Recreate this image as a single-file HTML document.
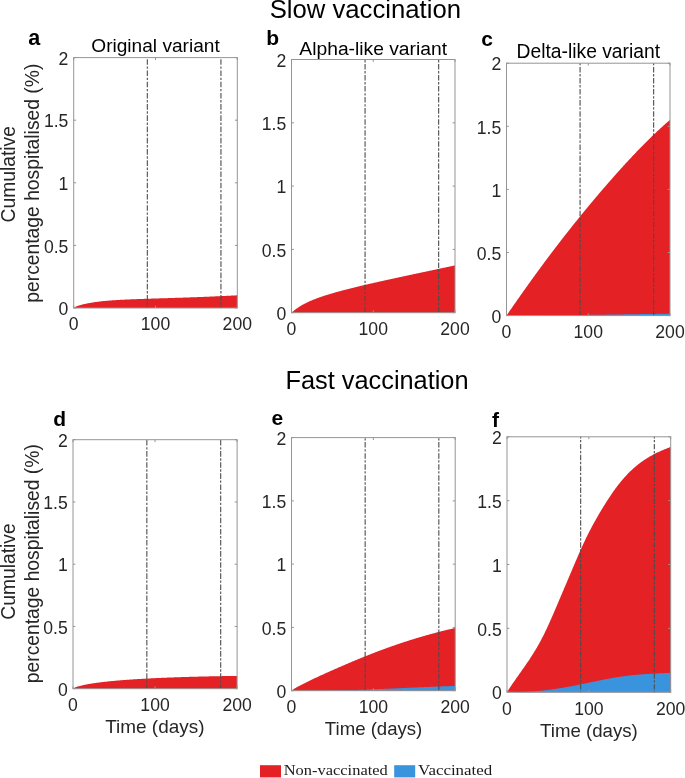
<!DOCTYPE html>
<html><head><meta charset="utf-8"><style>
html,body{margin:0;padding:0;background:#fff;width:685px;height:778px;overflow:hidden;}
svg{display:block;font-family:"Liberation Sans",sans-serif;will-change:transform;}
</style></head><body>
<svg width="685" height="778" viewBox="0 0 685 778" font-family="Liberation Sans, sans-serif">
<path d="M73.70,308.00 L73.70,308.00 L74.20,307.45 L74.70,307.16 L75.20,306.91 L75.70,306.68 L76.19,306.48 L76.69,306.28 L77.19,306.10 L77.69,305.93 L78.19,305.76 L78.69,305.60 L79.19,305.44 L79.69,305.29 L80.18,305.15 L80.68,305.01 L81.18,304.87 L81.68,304.74 L82.18,304.61 L82.68,304.48 L83.18,304.36 L83.68,304.24 L84.17,304.12 L84.67,304.00 L85.17,303.89 L85.67,303.78 L86.17,303.68 L86.67,303.57 L87.17,303.47 L87.67,303.37 L88.16,303.27 L88.66,303.18 L89.16,303.08 L89.66,302.99 L90.16,302.90 L90.66,302.81 L91.16,302.73 L91.66,302.64 L92.15,302.56 L92.65,302.48 L93.15,302.40 L93.65,302.32 L94.15,302.24 L94.65,302.17 L95.15,302.10 L95.65,302.03 L96.15,301.96 L96.64,301.89 L97.14,301.82 L97.64,301.76 L98.14,301.69 L98.64,301.63 L99.14,301.57 L99.64,301.51 L100.14,301.45 L100.63,301.39 L101.13,301.34 L101.63,301.28 L102.13,301.23 L102.63,301.17 L103.13,301.12 L103.63,301.07 L104.13,301.02 L104.62,300.98 L105.12,300.93 L105.62,300.88 L106.12,300.84 L106.62,300.80 L107.12,300.75 L107.62,300.71 L108.12,300.67 L108.61,300.63 L109.11,300.59 L109.61,300.55 L110.11,300.51 L110.61,300.47 L111.11,300.44 L111.61,300.40 L112.11,300.36 L112.60,300.33 L113.10,300.29 L113.60,300.26 L114.10,300.23 L114.60,300.19 L115.10,300.16 L115.60,300.13 L116.10,300.10 L116.60,300.07 L117.09,300.04 L117.59,300.01 L118.09,299.98 L118.59,299.95 L119.09,299.92 L119.59,299.90 L120.09,299.87 L120.59,299.84 L121.08,299.81 L121.58,299.79 L122.08,299.76 L122.58,299.74 L123.08,299.71 L123.58,299.69 L124.08,299.66 L124.58,299.64 L125.07,299.61 L125.57,299.59 L126.07,299.57 L126.57,299.54 L127.07,299.52 L127.57,299.50 L128.07,299.48 L128.57,299.46 L129.06,299.43 L129.56,299.41 L130.06,299.39 L130.56,299.37 L131.06,299.35 L131.56,299.33 L132.06,299.31 L132.56,299.29 L133.05,299.27 L133.55,299.25 L134.05,299.23 L134.55,299.21 L135.05,299.19 L135.55,299.17 L136.05,299.15 L136.55,299.13 L137.05,299.11 L137.54,299.10 L138.04,299.08 L138.54,299.06 L139.04,299.04 L139.54,299.02 L140.04,299.01 L140.54,298.99 L141.04,298.97 L141.53,298.95 L142.03,298.94 L142.53,298.92 L143.03,298.90 L143.53,298.89 L144.03,298.87 L144.53,298.85 L145.03,298.83 L145.52,298.82 L146.02,298.80 L146.52,298.79 L147.02,298.77 L147.52,298.75 L148.02,298.74 L148.52,298.72 L149.02,298.70 L149.51,298.69 L150.01,298.67 L150.51,298.66 L151.01,298.64 L151.51,298.62 L152.01,298.61 L152.51,298.59 L153.01,298.58 L153.50,298.56 L154.00,298.54 L154.50,298.53 L155.00,298.51 L155.50,298.50 L156.00,298.48 L156.50,298.47 L157.00,298.45 L157.50,298.44 L157.99,298.42 L158.49,298.40 L158.99,298.39 L159.49,298.37 L159.99,298.36 L160.49,298.34 L160.99,298.33 L161.49,298.31 L161.98,298.30 L162.48,298.28 L162.98,298.27 L163.48,298.25 L163.98,298.23 L164.48,298.22 L164.98,298.20 L165.48,298.19 L165.97,298.17 L166.47,298.16 L166.97,298.14 L167.47,298.13 L167.97,298.11 L168.47,298.09 L168.97,298.08 L169.47,298.06 L169.96,298.05 L170.46,298.03 L170.96,298.02 L171.46,298.00 L171.96,297.98 L172.46,297.97 L172.96,297.95 L173.46,297.94 L173.95,297.92 L174.45,297.90 L174.95,297.89 L175.45,297.87 L175.95,297.86 L176.45,297.84 L176.95,297.82 L177.45,297.81 L177.95,297.79 L178.44,297.77 L178.94,297.76 L179.44,297.74 L179.94,297.73 L180.44,297.71 L180.94,297.69 L181.44,297.68 L181.94,297.66 L182.43,297.64 L182.93,297.63 L183.43,297.61 L183.93,297.59 L184.43,297.57 L184.93,297.56 L185.43,297.54 L185.93,297.52 L186.42,297.51 L186.92,297.49 L187.42,297.47 L187.92,297.45 L188.42,297.44 L188.92,297.42 L189.42,297.40 L189.92,297.38 L190.41,297.36 L190.91,297.35 L191.41,297.33 L191.91,297.31 L192.41,297.29 L192.91,297.27 L193.41,297.26 L193.91,297.24 L194.40,297.22 L194.90,297.20 L195.40,297.18 L195.90,297.16 L196.40,297.15 L196.90,297.13 L197.40,297.11 L197.90,297.09 L198.40,297.07 L198.89,297.05 L199.39,297.03 L199.89,297.01 L200.39,296.99 L200.89,296.97 L201.39,296.95 L201.89,296.93 L202.39,296.91 L202.88,296.89 L203.38,296.88 L203.88,296.86 L204.38,296.84 L204.88,296.82 L205.38,296.79 L205.88,296.77 L206.38,296.75 L206.87,296.73 L207.37,296.71 L207.87,296.69 L208.37,296.67 L208.87,296.65 L209.37,296.63 L209.87,296.61 L210.37,296.59 L210.86,296.57 L211.36,296.55 L211.86,296.52 L212.36,296.50 L212.86,296.48 L213.36,296.46 L213.86,296.44 L214.36,296.42 L214.85,296.39 L215.35,296.37 L215.85,296.35 L216.35,296.33 L216.85,296.30 L217.35,296.28 L217.85,296.26 L218.35,296.24 L218.85,296.21 L219.34,296.19 L219.84,296.17 L220.34,296.14 L220.84,296.12 L221.34,296.10 L221.84,296.07 L222.34,296.05 L222.84,296.03 L223.33,296.00 L223.83,295.98 L224.33,295.96 L224.83,295.93 L225.33,295.91 L225.83,295.88 L226.33,295.86 L226.83,295.83 L227.32,295.81 L227.82,295.79 L228.32,295.76 L228.82,295.74 L229.32,295.71 L229.82,295.69 L230.32,295.66 L230.82,295.64 L231.31,295.61 L231.81,295.58 L232.31,295.56 L232.81,295.53 L233.31,295.51 L233.81,295.48 L234.31,295.46 L234.81,295.43 L235.30,295.40 L235.80,295.38 L236.30,295.35 L236.80,295.32 L237.30,295.30 L237.30,308.00 Z" fill="#e42125"/>
<line x1="147.32" y1="57.60" x2="147.32" y2="308.00" stroke="#4d4d4d" stroke-width="1.1" stroke-dasharray="5.62 1.60 2.41 1.60" stroke-dashoffset="9.63"/>
<line x1="220.94" y1="57.60" x2="220.94" y2="308.00" stroke="#4d4d4d" stroke-width="1.1" stroke-dasharray="5.62 1.60 2.41 1.60" stroke-dashoffset="9.63"/>
<rect x="73.70" y="57.60" width="163.60" height="250.40" fill="none" stroke="#959595" stroke-width="1"/>
<line x1="73.70" y1="308.00" x2="76.10" y2="308.00" stroke="#959595" stroke-width="1"/>
<line x1="237.30" y1="308.00" x2="234.90" y2="308.00" stroke="#959595" stroke-width="1"/>
<line x1="73.70" y1="245.40" x2="76.10" y2="245.40" stroke="#959595" stroke-width="1"/>
<line x1="237.30" y1="245.40" x2="234.90" y2="245.40" stroke="#959595" stroke-width="1"/>
<line x1="73.70" y1="182.80" x2="76.10" y2="182.80" stroke="#959595" stroke-width="1"/>
<line x1="237.30" y1="182.80" x2="234.90" y2="182.80" stroke="#959595" stroke-width="1"/>
<line x1="73.70" y1="120.20" x2="76.10" y2="120.20" stroke="#959595" stroke-width="1"/>
<line x1="237.30" y1="120.20" x2="234.90" y2="120.20" stroke="#959595" stroke-width="1"/>
<line x1="73.70" y1="57.60" x2="76.10" y2="57.60" stroke="#959595" stroke-width="1"/>
<line x1="237.30" y1="57.60" x2="234.90" y2="57.60" stroke="#959595" stroke-width="1"/>
<line x1="73.70" y1="308.00" x2="73.70" y2="305.60" stroke="#959595" stroke-width="1"/>
<line x1="73.70" y1="57.60" x2="73.70" y2="60.00" stroke="#959595" stroke-width="1"/>
<line x1="155.50" y1="308.00" x2="155.50" y2="305.60" stroke="#959595" stroke-width="1"/>
<line x1="155.50" y1="57.60" x2="155.50" y2="60.00" stroke="#959595" stroke-width="1"/>
<line x1="237.30" y1="308.00" x2="237.30" y2="305.60" stroke="#959595" stroke-width="1"/>
<line x1="237.30" y1="57.60" x2="237.30" y2="60.00" stroke="#959595" stroke-width="1"/>
<text x="68.40" y="315.20" font-size="17.6" text-anchor="end" fill="#262626">0</text>
<text x="68.40" y="252.60" font-size="17.6" text-anchor="end" fill="#262626">0.5</text>
<text x="68.40" y="190.00" font-size="17.6" text-anchor="end" fill="#262626">1</text>
<text x="68.40" y="127.40" font-size="17.6" text-anchor="end" fill="#262626">1.5</text>
<text x="68.40" y="64.80" font-size="17.6" text-anchor="end" fill="#262626">2</text>
<text x="73.70" y="330.40" font-size="17.6" text-anchor="middle" fill="#262626">0</text>
<text x="155.50" y="330.40" font-size="17.6" text-anchor="middle" fill="#262626">100</text>
<text x="237.30" y="330.40" font-size="17.6" text-anchor="middle" fill="#262626">200</text>
<path d="M291.60,312.70 L291.60,312.70 L292.10,312.23 L292.60,311.78 L293.10,311.35 L293.60,310.93 L294.10,310.52 L294.60,310.12 L295.10,309.73 L295.60,309.35 L296.10,308.98 L296.60,308.62 L297.10,308.26 L297.60,307.92 L298.10,307.58 L298.60,307.24 L299.10,306.92 L299.60,306.60 L300.09,306.28 L300.59,305.97 L301.09,305.67 L301.59,305.37 L302.09,305.08 L302.59,304.80 L303.09,304.52 L303.59,304.24 L304.09,303.97 L304.59,303.70 L305.09,303.44 L305.59,303.19 L306.09,302.93 L306.59,302.69 L307.09,302.44 L307.59,302.21 L308.09,301.97 L308.59,301.74 L309.09,301.51 L309.59,301.29 L310.09,301.07 L310.59,300.85 L311.09,300.64 L311.59,300.43 L312.09,300.22 L312.59,300.02 L313.09,299.81 L313.59,299.61 L314.09,299.41 L314.59,299.22 L315.09,299.03 L315.59,298.83 L316.09,298.64 L316.58,298.46 L317.08,298.27 L317.58,298.09 L318.08,297.91 L318.58,297.73 L319.08,297.55 L319.58,297.37 L320.08,297.20 L320.58,297.02 L321.08,296.85 L321.58,296.68 L322.08,296.51 L322.58,296.35 L323.08,296.18 L323.58,296.01 L324.08,295.85 L324.58,295.69 L325.08,295.53 L325.58,295.37 L326.08,295.21 L326.58,295.05 L327.08,294.89 L327.58,294.74 L328.08,294.58 L328.58,294.43 L329.08,294.28 L329.58,294.13 L330.08,293.97 L330.58,293.82 L331.08,293.68 L331.58,293.53 L332.08,293.38 L332.57,293.23 L333.07,293.09 L333.57,292.94 L334.07,292.80 L334.57,292.66 L335.07,292.51 L335.57,292.37 L336.07,292.23 L336.57,292.09 L337.07,291.95 L337.57,291.81 L338.07,291.67 L338.57,291.54 L339.07,291.40 L339.57,291.26 L340.07,291.13 L340.57,290.99 L341.07,290.86 L341.57,290.72 L342.07,290.59 L342.57,290.46 L343.07,290.32 L343.57,290.19 L344.07,290.06 L344.57,289.93 L345.07,289.80 L345.57,289.67 L346.07,289.54 L346.57,289.41 L347.07,289.28 L347.57,289.15 L348.07,289.03 L348.57,288.90 L349.06,288.77 L349.56,288.64 L350.06,288.52 L350.56,288.39 L351.06,288.27 L351.56,288.14 L352.06,288.02 L352.56,287.89 L353.06,287.77 L353.56,287.65 L354.06,287.52 L354.56,287.40 L355.06,287.28 L355.56,287.16 L356.06,287.04 L356.56,286.91 L357.06,286.79 L357.56,286.67 L358.06,286.55 L358.56,286.43 L359.06,286.31 L359.56,286.19 L360.06,286.07 L360.56,285.95 L361.06,285.84 L361.56,285.72 L362.06,285.60 L362.56,285.48 L363.06,285.36 L363.56,285.25 L364.06,285.13 L364.56,285.01 L365.06,284.89 L365.55,284.78 L366.05,284.66 L366.55,284.55 L367.05,284.43 L367.55,284.31 L368.05,284.20 L368.55,284.08 L369.05,283.97 L369.55,283.85 L370.05,283.74 L370.55,283.62 L371.05,283.51 L371.55,283.40 L372.05,283.28 L372.55,283.17 L373.05,283.05 L373.55,282.94 L374.05,282.83 L374.55,282.72 L375.05,282.60 L375.55,282.49 L376.05,282.38 L376.55,282.26 L377.05,282.15 L377.55,282.04 L378.05,281.93 L378.55,281.82 L379.05,281.70 L379.55,281.59 L380.05,281.48 L380.55,281.37 L381.05,281.26 L381.54,281.15 L382.04,281.04 L382.54,280.93 L383.04,280.82 L383.54,280.71 L384.04,280.60 L384.54,280.48 L385.04,280.37 L385.54,280.26 L386.04,280.15 L386.54,280.04 L387.04,279.94 L387.54,279.83 L388.04,279.72 L388.54,279.61 L389.04,279.50 L389.54,279.39 L390.04,279.28 L390.54,279.17 L391.04,279.06 L391.54,278.95 L392.04,278.84 L392.54,278.73 L393.04,278.63 L393.54,278.52 L394.04,278.41 L394.54,278.30 L395.04,278.19 L395.54,278.08 L396.04,277.97 L396.54,277.87 L397.04,277.76 L397.54,277.65 L398.03,277.54 L398.53,277.43 L399.03,277.33 L399.53,277.22 L400.03,277.11 L400.53,277.00 L401.03,276.90 L401.53,276.79 L402.03,276.68 L402.53,276.57 L403.03,276.47 L403.53,276.36 L404.03,276.25 L404.53,276.14 L405.03,276.04 L405.53,275.93 L406.03,275.82 L406.53,275.72 L407.03,275.61 L407.53,275.50 L408.03,275.40 L408.53,275.29 L409.03,275.18 L409.53,275.07 L410.03,274.97 L410.53,274.86 L411.03,274.75 L411.53,274.65 L412.03,274.54 L412.53,274.43 L413.03,274.33 L413.53,274.22 L414.03,274.11 L414.52,274.01 L415.02,273.90 L415.52,273.79 L416.02,273.69 L416.52,273.58 L417.02,273.48 L417.52,273.37 L418.02,273.26 L418.52,273.16 L419.02,273.05 L419.52,272.94 L420.02,272.84 L420.52,272.73 L421.02,272.62 L421.52,272.52 L422.02,272.41 L422.52,272.31 L423.02,272.20 L423.52,272.09 L424.02,271.99 L424.52,271.88 L425.02,271.77 L425.52,271.67 L426.02,271.56 L426.52,271.46 L427.02,271.35 L427.52,271.24 L428.02,271.14 L428.52,271.03 L429.02,270.93 L429.52,270.82 L430.02,270.71 L430.51,270.61 L431.01,270.50 L431.51,270.39 L432.01,270.29 L432.51,270.18 L433.01,270.08 L433.51,269.97 L434.01,269.86 L434.51,269.76 L435.01,269.65 L435.51,269.54 L436.01,269.44 L436.51,269.33 L437.01,269.23 L437.51,269.12 L438.01,269.01 L438.51,268.91 L439.01,268.80 L439.51,268.69 L440.01,268.59 L440.51,268.48 L441.01,268.37 L441.51,268.27 L442.01,268.16 L442.51,268.06 L443.01,267.95 L443.51,267.84 L444.01,267.74 L444.51,267.63 L445.01,267.52 L445.51,267.42 L446.01,267.31 L446.51,267.20 L447.00,267.10 L447.50,266.99 L448.00,266.88 L448.50,266.78 L449.00,266.67 L449.50,266.56 L450.00,266.46 L450.50,266.35 L451.00,266.24 L451.50,266.14 L452.00,266.03 L452.50,265.92 L453.00,265.82 L453.50,265.71 L454.00,265.60 L454.50,265.49 L455.00,265.39 L455.00,312.70 Z" fill="#e42125"/>
<line x1="365.07" y1="59.50" x2="365.07" y2="312.70" stroke="#4d4d4d" stroke-width="1.1" stroke-dasharray="5.51 1.58 2.36 1.58" stroke-dashoffset="6.53"/>
<line x1="438.65" y1="59.50" x2="438.65" y2="312.70" stroke="#4d4d4d" stroke-width="1.1" stroke-dasharray="5.51 1.58 2.36 1.58" stroke-dashoffset="6.53"/>
<rect x="291.50" y="59.50" width="163.50" height="253.20" fill="none" stroke="#959595" stroke-width="1"/>
<line x1="291.50" y1="312.70" x2="293.90" y2="312.70" stroke="#959595" stroke-width="1"/>
<line x1="455.00" y1="312.70" x2="452.60" y2="312.70" stroke="#959595" stroke-width="1"/>
<line x1="291.50" y1="249.40" x2="293.90" y2="249.40" stroke="#959595" stroke-width="1"/>
<line x1="455.00" y1="249.40" x2="452.60" y2="249.40" stroke="#959595" stroke-width="1"/>
<line x1="291.50" y1="186.10" x2="293.90" y2="186.10" stroke="#959595" stroke-width="1"/>
<line x1="455.00" y1="186.10" x2="452.60" y2="186.10" stroke="#959595" stroke-width="1"/>
<line x1="291.50" y1="122.80" x2="293.90" y2="122.80" stroke="#959595" stroke-width="1"/>
<line x1="455.00" y1="122.80" x2="452.60" y2="122.80" stroke="#959595" stroke-width="1"/>
<line x1="291.50" y1="59.50" x2="293.90" y2="59.50" stroke="#959595" stroke-width="1"/>
<line x1="455.00" y1="59.50" x2="452.60" y2="59.50" stroke="#959595" stroke-width="1"/>
<line x1="291.50" y1="312.70" x2="291.50" y2="310.30" stroke="#959595" stroke-width="1"/>
<line x1="291.50" y1="59.50" x2="291.50" y2="61.90" stroke="#959595" stroke-width="1"/>
<line x1="373.25" y1="312.70" x2="373.25" y2="310.30" stroke="#959595" stroke-width="1"/>
<line x1="373.25" y1="59.50" x2="373.25" y2="61.90" stroke="#959595" stroke-width="1"/>
<line x1="455.00" y1="312.70" x2="455.00" y2="310.30" stroke="#959595" stroke-width="1"/>
<line x1="455.00" y1="59.50" x2="455.00" y2="61.90" stroke="#959595" stroke-width="1"/>
<text x="286.20" y="319.90" font-size="17.6" text-anchor="end" fill="#262626">0</text>
<text x="286.20" y="256.60" font-size="17.6" text-anchor="end" fill="#262626">0.5</text>
<text x="286.20" y="193.30" font-size="17.6" text-anchor="end" fill="#262626">1</text>
<text x="286.20" y="130.00" font-size="17.6" text-anchor="end" fill="#262626">1.5</text>
<text x="286.20" y="66.70" font-size="17.6" text-anchor="end" fill="#262626">2</text>
<text x="291.50" y="335.10" font-size="17.6" text-anchor="middle" fill="#262626">0</text>
<text x="373.25" y="335.10" font-size="17.6" text-anchor="middle" fill="#262626">100</text>
<text x="455.00" y="335.10" font-size="17.6" text-anchor="middle" fill="#262626">200</text>
<path d="M506.60,315.60 L506.60,315.40 L507.10,314.68 L507.60,313.95 L508.10,313.22 L508.60,312.50 L509.10,311.78 L509.60,311.05 L510.10,310.33 L510.60,309.61 L511.10,308.89 L511.60,308.17 L512.10,307.44 L512.60,306.73 L513.10,306.01 L513.60,305.29 L514.10,304.57 L514.60,303.85 L515.09,303.14 L515.59,302.42 L516.09,301.71 L516.59,300.99 L517.09,300.28 L517.59,299.56 L518.09,298.85 L518.59,298.14 L519.09,297.43 L519.59,296.72 L520.09,296.01 L520.59,295.30 L521.09,294.59 L521.59,293.88 L522.09,293.18 L522.59,292.47 L523.09,291.76 L523.59,291.06 L524.09,290.35 L524.59,289.65 L525.09,288.95 L525.59,288.24 L526.09,287.54 L526.59,286.84 L527.09,286.14 L527.59,285.44 L528.09,284.74 L528.59,284.05 L529.09,283.35 L529.59,282.65 L530.09,281.96 L530.59,281.26 L531.09,280.57 L531.58,279.87 L532.08,279.18 L532.58,278.49 L533.08,277.80 L533.58,277.11 L534.08,276.42 L534.58,275.73 L535.08,275.04 L535.58,274.35 L536.08,273.66 L536.58,272.98 L537.08,272.29 L537.58,271.61 L538.08,270.93 L538.58,270.24 L539.08,269.56 L539.58,268.88 L540.08,268.20 L540.58,267.52 L541.08,266.84 L541.58,266.16 L542.08,265.48 L542.58,264.81 L543.08,264.13 L543.58,263.46 L544.08,262.78 L544.58,262.11 L545.08,261.44 L545.58,260.77 L546.08,260.10 L546.58,259.43 L547.08,258.76 L547.57,258.09 L548.07,257.42 L548.57,256.75 L549.07,256.09 L549.57,255.42 L550.07,254.76 L550.57,254.10 L551.07,253.43 L551.57,252.77 L552.07,252.11 L552.57,251.45 L553.07,250.79 L553.57,250.14 L554.07,249.48 L554.57,248.82 L555.07,248.17 L555.57,247.51 L556.07,246.86 L556.57,246.21 L557.07,245.55 L557.57,244.90 L558.07,244.25 L558.57,243.60 L559.07,242.95 L559.57,242.31 L560.07,241.66 L560.57,241.01 L561.07,240.37 L561.57,239.72 L562.07,239.08 L562.57,238.43 L563.07,237.79 L563.57,237.15 L564.06,236.51 L564.56,235.87 L565.06,235.23 L565.56,234.59 L566.06,233.96 L566.56,233.32 L567.06,232.68 L567.56,232.05 L568.06,231.41 L568.56,230.78 L569.06,230.15 L569.56,229.52 L570.06,228.89 L570.56,228.26 L571.06,227.63 L571.56,227.00 L572.06,226.37 L572.56,225.74 L573.06,225.12 L573.56,224.49 L574.06,223.87 L574.56,223.24 L575.06,222.62 L575.56,222.00 L576.06,221.38 L576.56,220.76 L577.06,220.14 L577.56,219.52 L578.06,218.90 L578.56,218.28 L579.06,217.67 L579.56,217.05 L580.06,216.43 L580.55,215.82 L581.05,215.21 L581.55,214.59 L582.05,213.98 L582.55,213.37 L583.05,212.76 L583.55,212.15 L584.05,211.54 L584.55,210.93 L585.05,210.32 L585.55,209.72 L586.05,209.11 L586.55,208.51 L587.05,207.90 L587.55,207.30 L588.05,206.70 L588.55,206.09 L589.05,205.49 L589.55,204.89 L590.05,204.29 L590.55,203.69 L591.05,203.09 L591.55,202.50 L592.05,201.90 L592.55,201.30 L593.05,200.71 L593.55,200.11 L594.05,199.52 L594.55,198.92 L595.05,198.33 L595.55,197.74 L596.05,197.15 L596.54,196.56 L597.04,195.97 L597.54,195.38 L598.04,194.79 L598.54,194.21 L599.04,193.62 L599.54,193.03 L600.04,192.45 L600.54,191.86 L601.04,191.28 L601.54,190.70 L602.04,190.12 L602.54,189.53 L603.04,188.95 L603.54,188.37 L604.04,187.79 L604.54,187.22 L605.04,186.64 L605.54,186.06 L606.04,185.48 L606.54,184.91 L607.04,184.33 L607.54,183.76 L608.04,183.19 L608.54,182.61 L609.04,182.04 L609.54,181.47 L610.04,180.90 L610.54,180.33 L611.04,179.76 L611.54,179.19 L612.04,178.63 L612.54,178.06 L613.03,177.49 L613.53,176.93 L614.03,176.36 L614.53,175.80 L615.03,175.23 L615.53,174.67 L616.03,174.11 L616.53,173.55 L617.03,172.99 L617.53,172.43 L618.03,171.87 L618.53,171.32 L619.03,170.76 L619.53,170.20 L620.03,169.65 L620.53,169.09 L621.03,168.54 L621.53,167.99 L622.03,167.44 L622.53,166.89 L623.03,166.34 L623.53,165.79 L624.03,165.24 L624.53,164.69 L625.03,164.15 L625.53,163.60 L626.03,163.06 L626.53,162.51 L627.03,161.97 L627.53,161.43 L628.03,160.89 L628.53,160.35 L629.03,159.81 L629.52,159.28 L630.02,158.74 L630.52,158.21 L631.02,157.67 L631.52,157.14 L632.02,156.61 L632.52,156.08 L633.02,155.55 L633.52,155.02 L634.02,154.49 L634.52,153.96 L635.02,153.44 L635.52,152.91 L636.02,152.39 L636.52,151.87 L637.02,151.35 L637.52,150.83 L638.02,150.31 L638.52,149.79 L639.02,149.28 L639.52,148.76 L640.02,148.25 L640.52,147.73 L641.02,147.22 L641.52,146.71 L642.02,146.20 L642.52,145.69 L643.02,145.19 L643.52,144.68 L644.02,144.18 L644.52,143.68 L645.02,143.17 L645.51,142.67 L646.01,142.17 L646.51,141.68 L647.01,141.18 L647.51,140.68 L648.01,140.19 L648.51,139.70 L649.01,139.21 L649.51,138.72 L650.01,138.23 L650.51,137.74 L651.01,137.26 L651.51,136.77 L652.01,136.29 L652.51,135.81 L653.01,135.33 L653.51,134.85 L654.01,134.37 L654.51,133.89 L655.01,133.42 L655.51,132.95 L656.01,132.47 L656.51,132.00 L657.01,131.54 L657.51,131.07 L658.01,130.60 L658.51,130.14 L659.01,129.68 L659.51,129.21 L660.01,128.75 L660.51,128.30 L661.01,127.84 L661.51,127.38 L662.00,126.93 L662.50,126.48 L663.00,126.03 L663.50,125.58 L664.00,125.13 L664.50,124.69 L665.00,124.24 L665.50,123.80 L666.00,123.36 L666.50,122.92 L667.00,122.48 L667.50,122.04 L668.00,121.61 L668.50,121.18 L669.00,120.75 L669.50,120.32 L670.00,119.89 L670.00,315.60 Z" fill="#e42125"/>
<path d="M506.60,315.60 L506.60,315.50 L507.10,315.50 L507.60,315.50 L508.10,315.50 L508.60,315.50 L509.10,315.50 L509.60,315.50 L510.10,315.50 L510.60,315.50 L511.10,315.50 L511.60,315.50 L512.10,315.50 L512.60,315.50 L513.10,315.50 L513.60,315.50 L514.10,315.50 L514.60,315.50 L515.09,315.50 L515.59,315.50 L516.09,315.50 L516.59,315.50 L517.09,315.50 L517.59,315.50 L518.09,315.50 L518.59,315.49 L519.09,315.49 L519.59,315.49 L520.09,315.49 L520.59,315.49 L521.09,315.49 L521.59,315.49 L522.09,315.49 L522.59,315.48 L523.09,315.48 L523.59,315.48 L524.09,315.48 L524.59,315.48 L525.09,315.48 L525.59,315.47 L526.09,315.47 L526.59,315.47 L527.09,315.47 L527.59,315.47 L528.09,315.46 L528.59,315.46 L529.09,315.46 L529.59,315.46 L530.09,315.46 L530.59,315.45 L531.09,315.45 L531.58,315.45 L532.08,315.45 L532.58,315.44 L533.08,315.44 L533.58,315.44 L534.08,315.43 L534.58,315.43 L535.08,315.43 L535.58,315.43 L536.08,315.42 L536.58,315.42 L537.08,315.42 L537.58,315.41 L538.08,315.41 L538.58,315.41 L539.08,315.40 L539.58,315.40 L540.08,315.40 L540.58,315.39 L541.08,315.39 L541.58,315.39 L542.08,315.38 L542.58,315.38 L543.08,315.38 L543.58,315.37 L544.08,315.37 L544.58,315.37 L545.08,315.36 L545.58,315.36 L546.08,315.35 L546.58,315.35 L547.08,315.35 L547.57,315.34 L548.07,315.34 L548.57,315.33 L549.07,315.33 L549.57,315.32 L550.07,315.32 L550.57,315.32 L551.07,315.31 L551.57,315.31 L552.07,315.30 L552.57,315.30 L553.07,315.29 L553.57,315.29 L554.07,315.28 L554.57,315.28 L555.07,315.27 L555.57,315.27 L556.07,315.27 L556.57,315.26 L557.07,315.26 L557.57,315.25 L558.07,315.25 L558.57,315.24 L559.07,315.24 L559.57,315.23 L560.07,315.23 L560.57,315.22 L561.07,315.22 L561.57,315.21 L562.07,315.20 L562.57,315.20 L563.07,315.19 L563.57,315.19 L564.06,315.18 L564.56,315.18 L565.06,315.17 L565.56,315.17 L566.06,315.16 L566.56,315.16 L567.06,315.15 L567.56,315.14 L568.06,315.14 L568.56,315.13 L569.06,315.13 L569.56,315.12 L570.06,315.12 L570.56,315.11 L571.06,315.10 L571.56,315.10 L572.06,315.09 L572.56,315.09 L573.06,315.08 L573.56,315.07 L574.06,315.07 L574.56,315.06 L575.06,315.06 L575.56,315.05 L576.06,315.04 L576.56,315.04 L577.06,315.03 L577.56,315.02 L578.06,315.02 L578.56,315.01 L579.06,315.01 L579.56,315.00 L580.06,314.99 L580.55,314.99 L581.05,314.98 L581.55,314.97 L582.05,314.97 L582.55,314.96 L583.05,314.95 L583.55,314.95 L584.05,314.94 L584.55,314.93 L585.05,314.93 L585.55,314.92 L586.05,314.91 L586.55,314.91 L587.05,314.90 L587.55,314.89 L588.05,314.89 L588.55,314.88 L589.05,314.87 L589.55,314.87 L590.05,314.86 L590.55,314.85 L591.05,314.85 L591.55,314.84 L592.05,314.83 L592.55,314.83 L593.05,314.82 L593.55,314.81 L594.05,314.80 L594.55,314.80 L595.05,314.79 L595.55,314.78 L596.05,314.78 L596.54,314.77 L597.04,314.76 L597.54,314.75 L598.04,314.75 L598.54,314.74 L599.04,314.73 L599.54,314.73 L600.04,314.72 L600.54,314.71 L601.04,314.70 L601.54,314.70 L602.04,314.69 L602.54,314.68 L603.04,314.68 L603.54,314.67 L604.04,314.66 L604.54,314.65 L605.04,314.65 L605.54,314.64 L606.04,314.63 L606.54,314.62 L607.04,314.62 L607.54,314.61 L608.04,314.60 L608.54,314.59 L609.04,314.59 L609.54,314.58 L610.04,314.57 L610.54,314.56 L611.04,314.56 L611.54,314.55 L612.04,314.54 L612.54,314.53 L613.03,314.53 L613.53,314.52 L614.03,314.51 L614.53,314.50 L615.03,314.50 L615.53,314.49 L616.03,314.48 L616.53,314.47 L617.03,314.47 L617.53,314.46 L618.03,314.45 L618.53,314.44 L619.03,314.44 L619.53,314.43 L620.03,314.42 L620.53,314.41 L621.03,314.41 L621.53,314.40 L622.03,314.39 L622.53,314.38 L623.03,314.38 L623.53,314.37 L624.03,314.36 L624.53,314.35 L625.03,314.35 L625.53,314.34 L626.03,314.33 L626.53,314.32 L627.03,314.32 L627.53,314.31 L628.03,314.30 L628.53,314.29 L629.03,314.29 L629.52,314.28 L630.02,314.27 L630.52,314.26 L631.02,314.26 L631.52,314.25 L632.02,314.24 L632.52,314.23 L633.02,314.22 L633.52,314.22 L634.02,314.21 L634.52,314.20 L635.02,314.19 L635.52,314.19 L636.02,314.18 L636.52,314.17 L637.02,314.16 L637.52,314.16 L638.02,314.15 L638.52,314.14 L639.02,314.13 L639.52,314.13 L640.02,314.12 L640.52,314.11 L641.02,314.11 L641.52,314.10 L642.02,314.09 L642.52,314.08 L643.02,314.08 L643.52,314.07 L644.02,314.06 L644.52,314.05 L645.02,314.05 L645.51,314.04 L646.01,314.03 L646.51,314.02 L647.01,314.02 L647.51,314.01 L648.01,314.00 L648.51,314.00 L649.01,313.99 L649.51,313.98 L650.01,313.97 L650.51,313.97 L651.01,313.96 L651.51,313.95 L652.01,313.94 L652.51,313.94 L653.01,313.93 L653.51,313.92 L654.01,313.92 L654.51,313.91 L655.01,313.90 L655.51,313.90 L656.01,313.89 L656.51,313.88 L657.01,313.87 L657.51,313.87 L658.01,313.86 L658.51,313.85 L659.01,313.85 L659.51,313.84 L660.01,313.83 L660.51,313.83 L661.01,313.82 L661.51,313.81 L662.00,313.81 L662.50,313.80 L663.00,313.79 L663.50,313.79 L664.00,313.78 L664.50,313.77 L665.00,313.77 L665.50,313.76 L666.00,313.75 L666.50,313.75 L667.00,313.74 L667.50,313.73 L668.00,313.73 L668.50,313.72 L669.00,313.71 L669.50,313.71 L670.00,313.70 L670.00,315.60 Z" fill="#3a94dd"/>
<line x1="580.08" y1="63.20" x2="580.08" y2="315.60" stroke="#4d4d4d" stroke-width="1.1" stroke-dasharray="5.54 1.58 2.37 1.58" stroke-dashoffset="7.37"/>
<line x1="653.65" y1="63.20" x2="653.65" y2="315.60" stroke="#4d4d4d" stroke-width="1.1" stroke-dasharray="5.54 1.58 2.37 1.58" stroke-dashoffset="7.37"/>
<rect x="506.50" y="63.20" width="163.50" height="252.40" fill="none" stroke="#959595" stroke-width="1"/>
<line x1="506.50" y1="315.60" x2="508.90" y2="315.60" stroke="#959595" stroke-width="1"/>
<line x1="670.00" y1="315.60" x2="667.60" y2="315.60" stroke="#959595" stroke-width="1"/>
<line x1="506.50" y1="252.50" x2="508.90" y2="252.50" stroke="#959595" stroke-width="1"/>
<line x1="670.00" y1="252.50" x2="667.60" y2="252.50" stroke="#959595" stroke-width="1"/>
<line x1="506.50" y1="189.40" x2="508.90" y2="189.40" stroke="#959595" stroke-width="1"/>
<line x1="670.00" y1="189.40" x2="667.60" y2="189.40" stroke="#959595" stroke-width="1"/>
<line x1="506.50" y1="126.30" x2="508.90" y2="126.30" stroke="#959595" stroke-width="1"/>
<line x1="670.00" y1="126.30" x2="667.60" y2="126.30" stroke="#959595" stroke-width="1"/>
<line x1="506.50" y1="63.20" x2="508.90" y2="63.20" stroke="#959595" stroke-width="1"/>
<line x1="670.00" y1="63.20" x2="667.60" y2="63.20" stroke="#959595" stroke-width="1"/>
<line x1="506.50" y1="315.60" x2="506.50" y2="313.20" stroke="#959595" stroke-width="1"/>
<line x1="506.50" y1="63.20" x2="506.50" y2="65.60" stroke="#959595" stroke-width="1"/>
<line x1="588.25" y1="315.60" x2="588.25" y2="313.20" stroke="#959595" stroke-width="1"/>
<line x1="588.25" y1="63.20" x2="588.25" y2="65.60" stroke="#959595" stroke-width="1"/>
<line x1="670.00" y1="315.60" x2="670.00" y2="313.20" stroke="#959595" stroke-width="1"/>
<line x1="670.00" y1="63.20" x2="670.00" y2="65.60" stroke="#959595" stroke-width="1"/>
<text x="501.20" y="322.80" font-size="17.6" text-anchor="end" fill="#262626">0</text>
<text x="501.20" y="259.70" font-size="17.6" text-anchor="end" fill="#262626">0.5</text>
<text x="501.20" y="196.60" font-size="17.6" text-anchor="end" fill="#262626">1</text>
<text x="501.20" y="133.50" font-size="17.6" text-anchor="end" fill="#262626">1.5</text>
<text x="501.20" y="70.40" font-size="17.6" text-anchor="end" fill="#262626">2</text>
<text x="506.50" y="338.00" font-size="17.6" text-anchor="middle" fill="#262626">0</text>
<text x="588.25" y="338.00" font-size="17.6" text-anchor="middle" fill="#262626">100</text>
<text x="670.00" y="338.00" font-size="17.6" text-anchor="middle" fill="#262626">200</text>
<path d="M73.00,688.70 L73.00,688.70 L73.50,688.17 L74.00,687.89 L74.50,687.66 L75.00,687.45 L75.49,687.25 L75.99,687.07 L76.49,686.90 L76.99,686.74 L77.49,686.59 L77.99,686.44 L78.49,686.29 L78.99,686.16 L79.48,686.02 L79.98,685.89 L80.48,685.76 L80.98,685.64 L81.48,685.52 L81.98,685.40 L82.48,685.29 L82.98,685.18 L83.47,685.07 L83.97,684.96 L84.47,684.85 L84.97,684.75 L85.47,684.65 L85.97,684.55 L86.47,684.46 L86.97,684.36 L87.46,684.27 L87.96,684.18 L88.46,684.09 L88.96,684.01 L89.46,683.92 L89.96,683.84 L90.46,683.75 L90.96,683.67 L91.46,683.59 L91.95,683.51 L92.45,683.43 L92.95,683.36 L93.45,683.28 L93.95,683.21 L94.45,683.14 L94.95,683.06 L95.45,682.99 L95.94,682.92 L96.44,682.85 L96.94,682.78 L97.44,682.72 L97.94,682.65 L98.44,682.58 L98.94,682.52 L99.44,682.46 L99.93,682.39 L100.43,682.33 L100.93,682.27 L101.43,682.21 L101.93,682.15 L102.43,682.09 L102.93,682.03 L103.43,681.97 L103.92,681.91 L104.42,681.86 L104.92,681.80 L105.42,681.74 L105.92,681.69 L106.42,681.63 L106.92,681.58 L107.42,681.53 L107.91,681.47 L108.41,681.42 L108.91,681.37 L109.41,681.32 L109.91,681.27 L110.41,681.22 L110.91,681.17 L111.41,681.12 L111.91,681.07 L112.40,681.03 L112.90,680.98 L113.40,680.93 L113.90,680.89 L114.40,680.84 L114.90,680.79 L115.40,680.75 L115.90,680.70 L116.39,680.66 L116.89,680.62 L117.39,680.57 L117.89,680.53 L118.39,680.49 L118.89,680.45 L119.39,680.40 L119.89,680.36 L120.38,680.32 L120.88,680.28 L121.38,680.24 L121.88,680.20 L122.38,680.16 L122.88,680.12 L123.38,680.08 L123.88,680.04 L124.37,680.01 L124.87,679.97 L125.37,679.93 L125.87,679.89 L126.37,679.86 L126.87,679.82 L127.37,679.78 L127.87,679.75 L128.37,679.71 L128.86,679.68 L129.36,679.64 L129.86,679.61 L130.36,679.57 L130.86,679.54 L131.36,679.50 L131.86,679.47 L132.36,679.44 L132.85,679.40 L133.35,679.37 L133.85,679.34 L134.35,679.30 L134.85,679.27 L135.35,679.24 L135.85,679.21 L136.35,679.18 L136.84,679.15 L137.34,679.12 L137.84,679.08 L138.34,679.05 L138.84,679.02 L139.34,678.99 L139.84,678.96 L140.34,678.94 L140.83,678.91 L141.33,678.88 L141.83,678.85 L142.33,678.82 L142.83,678.79 L143.33,678.76 L143.83,678.73 L144.33,678.71 L144.82,678.68 L145.32,678.65 L145.82,678.62 L146.32,678.60 L146.82,678.57 L147.32,678.54 L147.82,678.52 L148.32,678.49 L148.82,678.47 L149.31,678.44 L149.81,678.41 L150.31,678.39 L150.81,678.36 L151.31,678.34 L151.81,678.31 L152.31,678.29 L152.81,678.26 L153.30,678.24 L153.80,678.22 L154.30,678.19 L154.80,678.17 L155.30,678.14 L155.80,678.12 L156.30,678.10 L156.80,678.07 L157.29,678.05 L157.79,678.03 L158.29,678.01 L158.79,677.98 L159.29,677.96 L159.79,677.94 L160.29,677.92 L160.79,677.89 L161.28,677.87 L161.78,677.85 L162.28,677.83 L162.78,677.81 L163.28,677.79 L163.78,677.77 L164.28,677.75 L164.78,677.73 L165.28,677.70 L165.77,677.68 L166.27,677.66 L166.77,677.64 L167.27,677.62 L167.77,677.60 L168.27,677.58 L168.77,677.57 L169.27,677.55 L169.76,677.53 L170.26,677.51 L170.76,677.49 L171.26,677.47 L171.76,677.45 L172.26,677.43 L172.76,677.41 L173.26,677.40 L173.75,677.38 L174.25,677.36 L174.75,677.34 L175.25,677.32 L175.75,677.31 L176.25,677.29 L176.75,677.27 L177.25,677.25 L177.74,677.24 L178.24,677.22 L178.74,677.20 L179.24,677.19 L179.74,677.17 L180.24,677.15 L180.74,677.14 L181.24,677.12 L181.73,677.10 L182.23,677.09 L182.73,677.07 L183.23,677.06 L183.73,677.04 L184.23,677.02 L184.73,677.01 L185.23,676.99 L185.73,676.98 L186.22,676.96 L186.72,676.95 L187.22,676.93 L187.72,676.92 L188.22,676.90 L188.72,676.89 L189.22,676.87 L189.72,676.86 L190.21,676.84 L190.71,676.83 L191.21,676.82 L191.71,676.80 L192.21,676.79 L192.71,676.77 L193.21,676.76 L193.71,676.75 L194.20,676.73 L194.70,676.72 L195.20,676.71 L195.70,676.69 L196.20,676.68 L196.70,676.67 L197.20,676.65 L197.70,676.64 L198.19,676.63 L198.69,676.62 L199.19,676.60 L199.69,676.59 L200.19,676.58 L200.69,676.57 L201.19,676.56 L201.69,676.54 L202.19,676.53 L202.68,676.52 L203.18,676.51 L203.68,676.50 L204.18,676.48 L204.68,676.47 L205.18,676.46 L205.68,676.45 L206.18,676.44 L206.67,676.43 L207.17,676.42 L207.67,676.41 L208.17,676.39 L208.67,676.38 L209.17,676.37 L209.67,676.36 L210.17,676.35 L210.66,676.34 L211.16,676.33 L211.66,676.32 L212.16,676.31 L212.66,676.30 L213.16,676.29 L213.66,676.28 L214.16,676.27 L214.65,676.26 L215.15,676.25 L215.65,676.24 L216.15,676.23 L216.65,676.22 L217.15,676.21 L217.65,676.20 L218.15,676.19 L218.64,676.19 L219.14,676.18 L219.64,676.17 L220.14,676.16 L220.64,676.15 L221.14,676.14 L221.64,676.13 L222.14,676.12 L222.64,676.12 L223.13,676.11 L223.63,676.10 L224.13,676.09 L224.63,676.08 L225.13,676.07 L225.63,676.07 L226.13,676.06 L226.63,676.05 L227.12,676.04 L227.62,676.03 L228.12,676.03 L228.62,676.02 L229.12,676.01 L229.62,676.00 L230.12,676.00 L230.62,675.99 L231.11,675.98 L231.61,675.97 L232.11,675.97 L232.61,675.96 L233.11,675.95 L233.61,675.95 L234.11,675.94 L234.61,675.93 L235.10,675.93 L235.60,675.92 L236.10,675.91 L236.60,675.91 L237.10,675.90 L237.10,688.70 Z" fill="#e42125"/>
<line x1="146.84" y1="439.70" x2="146.84" y2="688.70" stroke="#4d4d4d" stroke-width="1.1" stroke-dasharray="5.55 1.59 2.38 1.59" stroke-dashoffset="10.80"/>
<line x1="220.69" y1="439.70" x2="220.69" y2="688.70" stroke="#4d4d4d" stroke-width="1.1" stroke-dasharray="5.55 1.59 2.38 1.59" stroke-dashoffset="10.80"/>
<rect x="73.00" y="439.70" width="164.10" height="249.00" fill="none" stroke="#959595" stroke-width="1"/>
<line x1="73.00" y1="688.70" x2="75.40" y2="688.70" stroke="#959595" stroke-width="1"/>
<line x1="237.10" y1="688.70" x2="234.70" y2="688.70" stroke="#959595" stroke-width="1"/>
<line x1="73.00" y1="626.45" x2="75.40" y2="626.45" stroke="#959595" stroke-width="1"/>
<line x1="237.10" y1="626.45" x2="234.70" y2="626.45" stroke="#959595" stroke-width="1"/>
<line x1="73.00" y1="564.20" x2="75.40" y2="564.20" stroke="#959595" stroke-width="1"/>
<line x1="237.10" y1="564.20" x2="234.70" y2="564.20" stroke="#959595" stroke-width="1"/>
<line x1="73.00" y1="501.95" x2="75.40" y2="501.95" stroke="#959595" stroke-width="1"/>
<line x1="237.10" y1="501.95" x2="234.70" y2="501.95" stroke="#959595" stroke-width="1"/>
<line x1="73.00" y1="439.70" x2="75.40" y2="439.70" stroke="#959595" stroke-width="1"/>
<line x1="237.10" y1="439.70" x2="234.70" y2="439.70" stroke="#959595" stroke-width="1"/>
<line x1="73.00" y1="688.70" x2="73.00" y2="686.30" stroke="#959595" stroke-width="1"/>
<line x1="73.00" y1="439.70" x2="73.00" y2="442.10" stroke="#959595" stroke-width="1"/>
<line x1="155.05" y1="688.70" x2="155.05" y2="686.30" stroke="#959595" stroke-width="1"/>
<line x1="155.05" y1="439.70" x2="155.05" y2="442.10" stroke="#959595" stroke-width="1"/>
<line x1="237.10" y1="688.70" x2="237.10" y2="686.30" stroke="#959595" stroke-width="1"/>
<line x1="237.10" y1="439.70" x2="237.10" y2="442.10" stroke="#959595" stroke-width="1"/>
<text x="67.70" y="695.90" font-size="17.6" text-anchor="end" fill="#262626">0</text>
<text x="67.70" y="633.65" font-size="17.6" text-anchor="end" fill="#262626">0.5</text>
<text x="67.70" y="571.40" font-size="17.6" text-anchor="end" fill="#262626">1</text>
<text x="67.70" y="509.15" font-size="17.6" text-anchor="end" fill="#262626">1.5</text>
<text x="67.70" y="446.90" font-size="17.6" text-anchor="end" fill="#262626">2</text>
<text x="73.00" y="711.10" font-size="17.6" text-anchor="middle" fill="#262626">0</text>
<text x="155.05" y="711.10" font-size="17.6" text-anchor="middle" fill="#262626">100</text>
<text x="237.10" y="711.10" font-size="17.6" text-anchor="middle" fill="#262626">200</text>
<path d="M291.60,690.70 L291.60,690.70 L292.10,690.16 L292.60,689.80 L293.10,689.46 L293.60,689.14 L294.09,688.83 L294.59,688.53 L295.09,688.23 L295.59,687.94 L296.09,687.65 L296.59,687.37 L297.09,687.09 L297.59,686.81 L298.08,686.54 L298.58,686.27 L299.08,686.00 L299.58,685.73 L300.08,685.47 L300.58,685.21 L301.08,684.95 L301.58,684.69 L302.07,684.43 L302.57,684.17 L303.07,683.92 L303.57,683.66 L304.07,683.41 L304.57,683.16 L305.07,682.91 L305.57,682.66 L306.06,682.41 L306.56,682.16 L307.06,681.92 L307.56,681.67 L308.06,681.43 L308.56,681.19 L309.06,680.94 L309.56,680.70 L310.05,680.46 L310.55,680.22 L311.05,679.98 L311.55,679.75 L312.05,679.51 L312.55,679.27 L313.05,679.04 L313.55,678.80 L314.05,678.57 L314.54,678.33 L315.04,678.10 L315.54,677.86 L316.04,677.63 L316.54,677.40 L317.04,677.17 L317.54,676.94 L318.04,676.71 L318.53,676.48 L319.03,676.25 L319.53,676.02 L320.03,675.79 L320.53,675.56 L321.03,675.33 L321.53,675.10 L322.03,674.88 L322.52,674.65 L323.02,674.42 L323.52,674.20 L324.02,673.97 L324.52,673.75 L325.02,673.52 L325.52,673.30 L326.02,673.07 L326.51,672.85 L327.01,672.62 L327.51,672.40 L328.01,672.18 L328.51,671.95 L329.01,671.73 L329.51,671.51 L330.01,671.29 L330.50,671.07 L331.00,670.85 L331.50,670.62 L332.00,670.40 L332.50,670.18 L333.00,669.96 L333.50,669.74 L334.00,669.52 L334.50,669.30 L334.99,669.08 L335.49,668.87 L335.99,668.65 L336.49,668.43 L336.99,668.21 L337.49,667.99 L337.99,667.77 L338.49,667.56 L338.98,667.34 L339.48,667.12 L339.98,666.91 L340.48,666.69 L340.98,666.47 L341.48,666.26 L341.98,666.04 L342.48,665.82 L342.97,665.61 L343.47,665.39 L343.97,665.18 L344.47,664.96 L344.97,664.75 L345.47,664.53 L345.97,664.32 L346.47,664.10 L346.96,663.89 L347.46,663.68 L347.96,663.46 L348.46,663.25 L348.96,663.04 L349.46,662.83 L349.96,662.61 L350.46,662.40 L350.95,662.19 L351.45,661.98 L351.95,661.77 L352.45,661.56 L352.95,661.35 L353.45,661.14 L353.95,660.93 L354.45,660.72 L354.95,660.51 L355.44,660.31 L355.94,660.10 L356.44,659.89 L356.94,659.68 L357.44,659.48 L357.94,659.27 L358.44,659.06 L358.94,658.86 L359.43,658.65 L359.93,658.45 L360.43,658.24 L360.93,658.04 L361.43,657.84 L361.93,657.63 L362.43,657.43 L362.93,657.23 L363.42,657.03 L363.92,656.83 L364.42,656.62 L364.92,656.42 L365.42,656.22 L365.92,656.02 L366.42,655.82 L366.92,655.63 L367.41,655.43 L367.91,655.23 L368.41,655.03 L368.91,654.83 L369.41,654.64 L369.91,654.44 L370.41,654.24 L370.91,654.05 L371.40,653.85 L371.90,653.66 L372.40,653.47 L372.90,653.27 L373.40,653.08 L373.90,652.89 L374.40,652.69 L374.90,652.50 L375.40,652.31 L375.89,652.12 L376.39,651.93 L376.89,651.74 L377.39,651.55 L377.89,651.36 L378.39,651.17 L378.89,650.98 L379.39,650.80 L379.88,650.61 L380.38,650.42 L380.88,650.24 L381.38,650.05 L381.88,649.87 L382.38,649.68 L382.88,649.50 L383.38,649.31 L383.87,649.13 L384.37,648.95 L384.87,648.76 L385.37,648.58 L385.87,648.40 L386.37,648.22 L386.87,648.04 L387.37,647.86 L387.86,647.68 L388.36,647.50 L388.86,647.32 L389.36,647.14 L389.86,646.97 L390.36,646.79 L390.86,646.61 L391.36,646.44 L391.85,646.26 L392.35,646.09 L392.85,645.91 L393.35,645.74 L393.85,645.56 L394.35,645.39 L394.85,645.22 L395.35,645.05 L395.85,644.87 L396.34,644.70 L396.84,644.53 L397.34,644.36 L397.84,644.19 L398.34,644.02 L398.84,643.85 L399.34,643.69 L399.84,643.52 L400.33,643.35 L400.83,643.18 L401.33,643.02 L401.83,642.85 L402.33,642.69 L402.83,642.52 L403.33,642.36 L403.83,642.19 L404.32,642.03 L404.82,641.87 L405.32,641.71 L405.82,641.54 L406.32,641.38 L406.82,641.22 L407.32,641.06 L407.82,640.90 L408.31,640.74 L408.81,640.58 L409.31,640.43 L409.81,640.27 L410.31,640.11 L410.81,639.95 L411.31,639.80 L411.81,639.64 L412.30,639.49 L412.80,639.33 L413.30,639.18 L413.80,639.02 L414.30,638.87 L414.80,638.72 L415.30,638.57 L415.80,638.41 L416.30,638.26 L416.79,638.11 L417.29,637.96 L417.79,637.81 L418.29,637.66 L418.79,637.51 L419.29,637.36 L419.79,637.22 L420.29,637.07 L420.78,636.92 L421.28,636.78 L421.78,636.63 L422.28,636.49 L422.78,636.34 L423.28,636.20 L423.78,636.05 L424.28,635.91 L424.77,635.77 L425.27,635.62 L425.77,635.48 L426.27,635.34 L426.77,635.20 L427.27,635.06 L427.77,634.92 L428.27,634.78 L428.76,634.64 L429.26,634.50 L429.76,634.37 L430.26,634.23 L430.76,634.09 L431.26,633.96 L431.76,633.82 L432.26,633.68 L432.75,633.55 L433.25,633.42 L433.75,633.28 L434.25,633.15 L434.75,633.02 L435.25,632.88 L435.75,632.75 L436.25,632.62 L436.75,632.49 L437.24,632.36 L437.74,632.23 L438.24,632.10 L438.74,631.97 L439.24,631.84 L439.74,631.71 L440.24,631.59 L440.74,631.46 L441.23,631.33 L441.73,631.21 L442.23,631.08 L442.73,630.96 L443.23,630.83 L443.73,630.71 L444.23,630.58 L444.73,630.46 L445.22,630.34 L445.72,630.22 L446.22,630.10 L446.72,629.97 L447.22,629.85 L447.72,629.73 L448.22,629.61 L448.72,629.50 L449.21,629.38 L449.71,629.26 L450.21,629.14 L450.71,629.02 L451.21,628.91 L451.71,628.79 L452.21,628.68 L452.71,628.56 L453.20,628.45 L453.70,628.33 L454.20,628.22 L454.70,628.11 L455.20,627.99 L455.20,690.70 Z" fill="#e42125"/>
<path d="M291.60,690.70 L291.60,690.70 L292.10,690.70 L292.60,690.70 L293.10,690.70 L293.60,690.70 L294.09,690.70 L294.59,690.70 L295.09,690.70 L295.59,690.70 L296.09,690.70 L296.59,690.70 L297.09,690.70 L297.59,690.70 L298.08,690.70 L298.58,690.70 L299.08,690.70 L299.58,690.70 L300.08,690.70 L300.58,690.70 L301.08,690.70 L301.58,690.70 L302.07,690.70 L302.57,690.70 L303.07,690.70 L303.57,690.70 L304.07,690.70 L304.57,690.70 L305.07,690.70 L305.57,690.70 L306.06,690.70 L306.56,690.70 L307.06,690.70 L307.56,690.70 L308.06,690.70 L308.56,690.70 L309.06,690.70 L309.56,690.70 L310.05,690.70 L310.55,690.70 L311.05,690.70 L311.55,690.70 L312.05,690.70 L312.55,690.70 L313.05,690.70 L313.55,690.70 L314.05,690.70 L314.54,690.70 L315.04,690.70 L315.54,690.70 L316.04,690.70 L316.54,690.70 L317.04,690.70 L317.54,690.70 L318.04,690.70 L318.53,690.70 L319.03,690.70 L319.53,690.70 L320.03,690.70 L320.53,690.70 L321.03,690.70 L321.53,690.70 L322.03,690.70 L322.52,690.70 L323.02,690.70 L323.52,690.70 L324.02,690.70 L324.52,690.70 L325.02,690.70 L325.52,690.70 L326.02,690.69 L326.51,690.68 L327.01,690.68 L327.51,690.67 L328.01,690.66 L328.51,690.65 L329.01,690.64 L329.51,690.64 L330.01,690.63 L330.50,690.62 L331.00,690.61 L331.50,690.60 L332.00,690.59 L332.50,690.58 L333.00,690.57 L333.50,690.56 L334.00,690.55 L334.50,690.54 L334.99,690.53 L335.49,690.52 L335.99,690.51 L336.49,690.50 L336.99,690.49 L337.49,690.47 L337.99,690.46 L338.49,690.45 L338.98,690.44 L339.48,690.43 L339.98,690.42 L340.48,690.40 L340.98,690.39 L341.48,690.38 L341.98,690.36 L342.48,690.35 L342.97,690.34 L343.47,690.33 L343.97,690.31 L344.47,690.30 L344.97,690.29 L345.47,690.27 L345.97,690.26 L346.47,690.24 L346.96,690.23 L347.46,690.22 L347.96,690.20 L348.46,690.19 L348.96,690.17 L349.46,690.16 L349.96,690.14 L350.46,690.13 L350.95,690.11 L351.45,690.10 L351.95,690.08 L352.45,690.07 L352.95,690.05 L353.45,690.03 L353.95,690.02 L354.45,690.00 L354.95,689.99 L355.44,689.97 L355.94,689.95 L356.44,689.94 L356.94,689.92 L357.44,689.90 L357.94,689.89 L358.44,689.87 L358.94,689.85 L359.43,689.83 L359.93,689.82 L360.43,689.80 L360.93,689.78 L361.43,689.76 L361.93,689.75 L362.43,689.73 L362.93,689.71 L363.42,689.69 L363.92,689.67 L364.42,689.66 L364.92,689.64 L365.42,689.62 L365.92,689.60 L366.42,689.58 L366.92,689.56 L367.41,689.54 L367.91,689.53 L368.41,689.51 L368.91,689.49 L369.41,689.47 L369.91,689.45 L370.41,689.43 L370.91,689.41 L371.40,689.39 L371.90,689.37 L372.40,689.35 L372.90,689.33 L373.40,689.31 L373.90,689.29 L374.40,689.27 L374.90,689.25 L375.40,689.23 L375.89,689.21 L376.39,689.19 L376.89,689.17 L377.39,689.15 L377.89,689.13 L378.39,689.11 L378.89,689.09 L379.39,689.07 L379.88,689.05 L380.38,689.03 L380.88,689.01 L381.38,688.99 L381.88,688.96 L382.38,688.94 L382.88,688.92 L383.38,688.90 L383.87,688.88 L384.37,688.86 L384.87,688.84 L385.37,688.82 L385.87,688.79 L386.37,688.77 L386.87,688.75 L387.37,688.73 L387.86,688.71 L388.36,688.69 L388.86,688.67 L389.36,688.64 L389.86,688.62 L390.36,688.60 L390.86,688.58 L391.36,688.56 L391.85,688.54 L392.35,688.51 L392.85,688.49 L393.35,688.47 L393.85,688.45 L394.35,688.43 L394.85,688.40 L395.35,688.38 L395.85,688.36 L396.34,688.34 L396.84,688.32 L397.34,688.29 L397.84,688.27 L398.34,688.25 L398.84,688.23 L399.34,688.20 L399.84,688.18 L400.33,688.16 L400.83,688.14 L401.33,688.12 L401.83,688.09 L402.33,688.07 L402.83,688.05 L403.33,688.03 L403.83,688.00 L404.32,687.98 L404.82,687.96 L405.32,687.94 L405.82,687.92 L406.32,687.89 L406.82,687.87 L407.32,687.85 L407.82,687.83 L408.31,687.80 L408.81,687.78 L409.31,687.76 L409.81,687.74 L410.31,687.72 L410.81,687.69 L411.31,687.67 L411.81,687.65 L412.30,687.63 L412.80,687.60 L413.30,687.58 L413.80,687.56 L414.30,687.54 L414.80,687.52 L415.30,687.49 L415.80,687.47 L416.30,687.45 L416.79,687.43 L417.29,687.41 L417.79,687.38 L418.29,687.36 L418.79,687.34 L419.29,687.32 L419.79,687.30 L420.29,687.27 L420.78,687.25 L421.28,687.23 L421.78,687.21 L422.28,687.19 L422.78,687.17 L423.28,687.15 L423.78,687.12 L424.28,687.10 L424.77,687.08 L425.27,687.06 L425.77,687.04 L426.27,687.02 L426.77,687.00 L427.27,686.97 L427.77,686.95 L428.27,686.93 L428.76,686.91 L429.26,686.89 L429.76,686.87 L430.26,686.85 L430.76,686.83 L431.26,686.81 L431.76,686.79 L432.26,686.77 L432.75,686.74 L433.25,686.72 L433.75,686.70 L434.25,686.68 L434.75,686.66 L435.25,686.64 L435.75,686.62 L436.25,686.60 L436.75,686.58 L437.24,686.56 L437.74,686.54 L438.24,686.52 L438.74,686.50 L439.24,686.48 L439.74,686.46 L440.24,686.44 L440.74,686.43 L441.23,686.41 L441.73,686.39 L442.23,686.37 L442.73,686.35 L443.23,686.33 L443.73,686.31 L444.23,686.29 L444.73,686.27 L445.22,686.25 L445.72,686.24 L446.22,686.22 L446.72,686.20 L447.22,686.18 L447.72,686.16 L448.22,686.14 L448.72,686.13 L449.21,686.11 L449.71,686.09 L450.21,686.07 L450.71,686.06 L451.21,686.04 L451.71,686.02 L452.21,686.00 L452.71,685.99 L453.20,685.97 L453.70,685.95 L454.20,685.94 L454.70,685.92 L455.20,685.90 L455.20,690.70 Z" fill="#3a94dd"/>
<line x1="365.16" y1="437.60" x2="365.16" y2="690.70" stroke="#4d4d4d" stroke-width="1.1" stroke-dasharray="5.51 1.58 2.36 1.58" stroke-dashoffset="6.53"/>
<line x1="438.83" y1="437.60" x2="438.83" y2="690.70" stroke="#4d4d4d" stroke-width="1.1" stroke-dasharray="5.51 1.58 2.36 1.58" stroke-dashoffset="6.53"/>
<rect x="291.50" y="437.60" width="163.70" height="253.10" fill="none" stroke="#959595" stroke-width="1"/>
<line x1="291.50" y1="690.70" x2="293.90" y2="690.70" stroke="#959595" stroke-width="1"/>
<line x1="455.20" y1="690.70" x2="452.80" y2="690.70" stroke="#959595" stroke-width="1"/>
<line x1="291.50" y1="627.43" x2="293.90" y2="627.43" stroke="#959595" stroke-width="1"/>
<line x1="455.20" y1="627.43" x2="452.80" y2="627.43" stroke="#959595" stroke-width="1"/>
<line x1="291.50" y1="564.15" x2="293.90" y2="564.15" stroke="#959595" stroke-width="1"/>
<line x1="455.20" y1="564.15" x2="452.80" y2="564.15" stroke="#959595" stroke-width="1"/>
<line x1="291.50" y1="500.88" x2="293.90" y2="500.88" stroke="#959595" stroke-width="1"/>
<line x1="455.20" y1="500.88" x2="452.80" y2="500.88" stroke="#959595" stroke-width="1"/>
<line x1="291.50" y1="437.60" x2="293.90" y2="437.60" stroke="#959595" stroke-width="1"/>
<line x1="455.20" y1="437.60" x2="452.80" y2="437.60" stroke="#959595" stroke-width="1"/>
<line x1="291.50" y1="690.70" x2="291.50" y2="688.30" stroke="#959595" stroke-width="1"/>
<line x1="291.50" y1="437.60" x2="291.50" y2="440.00" stroke="#959595" stroke-width="1"/>
<line x1="373.35" y1="690.70" x2="373.35" y2="688.30" stroke="#959595" stroke-width="1"/>
<line x1="373.35" y1="437.60" x2="373.35" y2="440.00" stroke="#959595" stroke-width="1"/>
<line x1="455.20" y1="690.70" x2="455.20" y2="688.30" stroke="#959595" stroke-width="1"/>
<line x1="455.20" y1="437.60" x2="455.20" y2="440.00" stroke="#959595" stroke-width="1"/>
<text x="286.20" y="697.90" font-size="17.6" text-anchor="end" fill="#262626">0</text>
<text x="286.20" y="634.63" font-size="17.6" text-anchor="end" fill="#262626">0.5</text>
<text x="286.20" y="571.35" font-size="17.6" text-anchor="end" fill="#262626">1</text>
<text x="286.20" y="508.07" font-size="17.6" text-anchor="end" fill="#262626">1.5</text>
<text x="286.20" y="444.80" font-size="17.6" text-anchor="end" fill="#262626">2</text>
<text x="291.50" y="713.10" font-size="17.6" text-anchor="middle" fill="#262626">0</text>
<text x="373.35" y="713.10" font-size="17.6" text-anchor="middle" fill="#262626">100</text>
<text x="455.20" y="713.10" font-size="17.6" text-anchor="middle" fill="#262626">200</text>
<path d="M507.00,692.20 L507.00,692.20 L507.50,691.41 L508.00,690.63 L508.50,689.85 L509.00,689.08 L509.50,688.32 L509.99,687.56 L510.49,686.81 L510.99,686.06 L511.49,685.31 L511.99,684.57 L512.49,683.84 L512.99,683.10 L513.49,682.37 L513.99,681.65 L514.49,680.93 L514.99,680.21 L515.48,679.49 L515.98,678.77 L516.48,678.06 L516.98,677.35 L517.48,676.64 L517.98,675.93 L518.48,675.23 L518.98,674.52 L519.48,673.81 L519.98,673.11 L520.48,672.40 L520.97,671.70 L521.47,670.99 L521.97,670.28 L522.47,669.57 L522.97,668.86 L523.47,668.15 L523.97,667.44 L524.47,666.72 L524.97,666.00 L525.47,665.28 L525.97,664.56 L526.46,663.83 L526.96,663.10 L527.46,662.37 L527.96,661.63 L528.46,660.89 L528.96,660.14 L529.46,659.39 L529.96,658.63 L530.46,657.87 L530.96,657.11 L531.46,656.33 L531.95,655.55 L532.45,654.77 L532.95,653.98 L533.45,653.18 L533.95,652.37 L534.45,651.56 L534.95,650.74 L535.45,649.91 L535.95,649.08 L536.45,648.23 L536.95,647.38 L537.44,646.52 L537.94,645.65 L538.44,644.77 L538.94,643.88 L539.44,642.98 L539.94,642.07 L540.44,641.15 L540.94,640.21 L541.44,639.27 L541.94,638.32 L542.44,637.35 L542.93,636.38 L543.43,635.39 L543.93,634.39 L544.43,633.38 L544.93,632.36 L545.43,631.32 L545.93,630.28 L546.43,629.23 L546.93,628.16 L547.43,627.09 L547.92,626.01 L548.42,624.92 L548.92,623.83 L549.42,622.72 L549.92,621.61 L550.42,620.50 L550.92,619.37 L551.42,618.24 L551.92,617.10 L552.42,615.96 L552.92,614.81 L553.41,613.66 L553.91,612.51 L554.41,611.35 L554.91,610.19 L555.41,609.02 L555.91,607.85 L556.41,606.68 L556.91,605.51 L557.41,604.33 L557.91,603.15 L558.41,601.98 L558.90,600.80 L559.40,599.62 L559.90,598.44 L560.40,597.26 L560.90,596.09 L561.40,594.91 L561.90,593.73 L562.40,592.55 L562.90,591.37 L563.40,590.20 L563.90,589.02 L564.39,587.84 L564.89,586.66 L565.39,585.48 L565.89,584.31 L566.39,583.13 L566.89,581.95 L567.39,580.78 L567.89,579.60 L568.39,578.43 L568.89,577.25 L569.39,576.08 L569.88,574.90 L570.38,573.73 L570.88,572.55 L571.38,571.38 L571.88,570.21 L572.38,569.04 L572.88,567.87 L573.38,566.69 L573.88,565.52 L574.38,564.35 L574.88,563.19 L575.37,562.02 L575.87,560.85 L576.37,559.68 L576.87,558.52 L577.37,557.35 L577.87,556.19 L578.37,555.03 L578.87,553.87 L579.37,552.72 L579.87,551.58 L580.37,550.44 L580.86,549.32 L581.36,548.20 L581.86,547.09 L582.36,546.00 L582.86,544.91 L583.36,543.83 L583.86,542.76 L584.36,541.70 L584.86,540.65 L585.36,539.61 L585.86,538.57 L586.35,537.55 L586.85,536.53 L587.35,535.52 L587.85,534.52 L588.35,533.53 L588.85,532.55 L589.35,531.57 L589.85,530.60 L590.35,529.64 L590.85,528.69 L591.35,527.74 L591.84,526.80 L592.34,525.87 L592.84,524.94 L593.34,524.02 L593.84,523.11 L594.34,522.20 L594.84,521.30 L595.34,520.41 L595.84,519.52 L596.34,518.64 L596.84,517.76 L597.33,516.89 L597.83,516.03 L598.33,515.17 L598.83,514.31 L599.33,513.47 L599.83,512.62 L600.33,511.78 L600.83,510.95 L601.33,510.12 L601.83,509.29 L602.33,508.47 L602.82,507.66 L603.32,506.84 L603.82,506.04 L604.32,505.23 L604.82,504.43 L605.32,503.64 L605.82,502.84 L606.32,502.06 L606.82,501.27 L607.32,500.50 L607.82,499.72 L608.31,498.96 L608.81,498.19 L609.31,497.44 L609.81,496.68 L610.31,495.94 L610.81,495.20 L611.31,494.46 L611.81,493.73 L612.31,493.00 L612.81,492.29 L613.31,491.57 L613.80,490.87 L614.30,490.17 L614.80,489.47 L615.30,488.78 L615.80,488.10 L616.30,487.43 L616.80,486.76 L617.30,486.10 L617.80,485.45 L618.30,484.80 L618.80,484.16 L619.29,483.53 L619.79,482.90 L620.29,482.28 L620.79,481.67 L621.29,481.07 L621.79,480.47 L622.29,479.88 L622.79,479.30 L623.29,478.72 L623.79,478.15 L624.29,477.59 L624.78,477.04 L625.28,476.49 L625.78,475.94 L626.28,475.41 L626.78,474.88 L627.28,474.36 L627.78,473.84 L628.28,473.33 L628.78,472.83 L629.28,472.33 L629.78,471.84 L630.27,471.35 L630.77,470.87 L631.27,470.40 L631.77,469.93 L632.27,469.47 L632.77,469.01 L633.27,468.56 L633.77,468.12 L634.27,467.68 L634.77,467.25 L635.26,466.82 L635.76,466.40 L636.26,465.98 L636.76,465.57 L637.26,465.16 L637.76,464.76 L638.26,464.37 L638.76,463.98 L639.26,463.59 L639.76,463.21 L640.26,462.83 L640.75,462.46 L641.25,462.10 L641.75,461.74 L642.25,461.38 L642.75,461.03 L643.25,460.68 L643.75,460.34 L644.25,460.00 L644.75,459.67 L645.25,459.34 L645.75,459.01 L646.24,458.69 L646.74,458.38 L647.24,458.06 L647.74,457.75 L648.24,457.45 L648.74,457.15 L649.24,456.85 L649.74,456.56 L650.24,456.27 L650.74,455.99 L651.24,455.71 L651.73,455.43 L652.23,455.16 L652.73,454.88 L653.23,454.62 L653.73,454.35 L654.23,454.09 L654.73,453.84 L655.23,453.58 L655.73,453.33 L656.23,453.09 L656.73,452.84 L657.22,452.60 L657.72,452.36 L658.22,452.13 L658.72,451.89 L659.22,451.66 L659.72,451.44 L660.22,451.21 L660.72,450.99 L661.22,450.77 L661.72,450.55 L662.22,450.34 L662.71,450.13 L663.21,449.92 L663.71,449.71 L664.21,449.50 L664.71,449.30 L665.21,449.10 L665.71,448.90 L666.21,448.70 L666.71,448.51 L667.21,448.31 L667.71,448.12 L668.20,447.93 L668.70,447.75 L669.20,447.56 L669.70,447.37 L670.20,447.19 L670.70,447.01 L670.70,692.20 Z" fill="#e42125"/>
<path d="M507.00,692.20 L507.00,692.20 L507.50,692.20 L508.00,692.20 L508.50,692.20 L509.00,692.20 L509.50,692.20 L509.99,692.20 L510.49,692.19 L510.99,692.19 L511.49,692.19 L511.99,692.18 L512.49,692.18 L512.99,692.17 L513.49,692.16 L513.99,692.16 L514.49,692.15 L514.99,692.14 L515.48,692.13 L515.98,692.12 L516.48,692.11 L516.98,692.10 L517.48,692.09 L517.98,692.08 L518.48,692.06 L518.98,692.05 L519.48,692.04 L519.98,692.02 L520.48,692.01 L520.97,691.99 L521.47,691.97 L521.97,691.96 L522.47,691.94 L522.97,691.92 L523.47,691.90 L523.97,691.88 L524.47,691.86 L524.97,691.84 L525.47,691.81 L525.97,691.79 L526.46,691.76 L526.96,691.74 L527.46,691.71 L527.96,691.69 L528.46,691.66 L528.96,691.63 L529.46,691.60 L529.96,691.57 L530.46,691.54 L530.96,691.51 L531.46,691.48 L531.95,691.45 L532.45,691.41 L532.95,691.38 L533.45,691.34 L533.95,691.31 L534.45,691.27 L534.95,691.23 L535.45,691.19 L535.95,691.15 L536.45,691.11 L536.95,691.07 L537.44,691.03 L537.94,690.98 L538.44,690.94 L538.94,690.90 L539.44,690.85 L539.94,690.80 L540.44,690.75 L540.94,690.71 L541.44,690.66 L541.94,690.61 L542.44,690.55 L542.93,690.50 L543.43,690.45 L543.93,690.39 L544.43,690.34 L544.93,690.28 L545.43,690.23 L545.93,690.17 L546.43,690.11 L546.93,690.05 L547.43,689.99 L547.92,689.93 L548.42,689.86 L548.92,689.80 L549.42,689.74 L549.92,689.67 L550.42,689.61 L550.92,689.54 L551.42,689.47 L551.92,689.40 L552.42,689.33 L552.92,689.27 L553.41,689.19 L553.91,689.12 L554.41,689.05 L554.91,688.98 L555.41,688.90 L555.91,688.83 L556.41,688.75 L556.91,688.68 L557.41,688.60 L557.91,688.52 L558.41,688.45 L558.90,688.37 L559.40,688.29 L559.90,688.21 L560.40,688.13 L560.90,688.05 L561.40,687.96 L561.90,687.88 L562.40,687.80 L562.90,687.71 L563.40,687.63 L563.90,687.54 L564.39,687.46 L564.89,687.37 L565.39,687.28 L565.89,687.20 L566.39,687.11 L566.89,687.02 L567.39,686.93 L567.89,686.84 L568.39,686.75 L568.89,686.66 L569.39,686.57 L569.88,686.48 L570.38,686.38 L570.88,686.29 L571.38,686.20 L571.88,686.10 L572.38,686.01 L572.88,685.91 L573.38,685.82 L573.88,685.72 L574.38,685.63 L574.88,685.53 L575.37,685.43 L575.87,685.34 L576.37,685.24 L576.87,685.14 L577.37,685.04 L577.87,684.94 L578.37,684.84 L578.87,684.74 L579.37,684.64 L579.87,684.54 L580.37,684.44 L580.86,684.34 L581.36,684.24 L581.86,684.14 L582.36,684.04 L582.86,683.93 L583.36,683.83 L583.86,683.73 L584.36,683.63 L584.86,683.52 L585.36,683.42 L585.86,683.32 L586.35,683.21 L586.85,683.11 L587.35,683.00 L587.85,682.90 L588.35,682.80 L588.85,682.69 L589.35,682.59 L589.85,682.48 L590.35,682.38 L590.85,682.27 L591.35,682.17 L591.84,682.07 L592.34,681.96 L592.84,681.86 L593.34,681.75 L593.84,681.65 L594.34,681.55 L594.84,681.44 L595.34,681.34 L595.84,681.24 L596.34,681.13 L596.84,681.03 L597.33,680.93 L597.83,680.82 L598.33,680.72 L598.83,680.62 L599.33,680.52 L599.83,680.42 L600.33,680.31 L600.83,680.21 L601.33,680.11 L601.83,680.01 L602.33,679.91 L602.82,679.81 L603.32,679.71 L603.82,679.62 L604.32,679.52 L604.82,679.42 L605.32,679.32 L605.82,679.23 L606.32,679.13 L606.82,679.03 L607.32,678.94 L607.82,678.84 L608.31,678.75 L608.81,678.66 L609.31,678.56 L609.81,678.47 L610.31,678.38 L610.81,678.29 L611.31,678.20 L611.81,678.11 L612.31,678.02 L612.81,677.93 L613.31,677.84 L613.80,677.76 L614.30,677.67 L614.80,677.58 L615.30,677.50 L615.80,677.42 L616.30,677.33 L616.80,677.25 L617.30,677.17 L617.80,677.09 L618.30,677.01 L618.80,676.93 L619.29,676.85 L619.79,676.78 L620.29,676.70 L620.79,676.63 L621.29,676.55 L621.79,676.48 L622.29,676.41 L622.79,676.34 L623.29,676.27 L623.79,676.20 L624.29,676.13 L624.78,676.07 L625.28,676.00 L625.78,675.94 L626.28,675.88 L626.78,675.81 L627.28,675.75 L627.78,675.69 L628.28,675.63 L628.78,675.58 L629.28,675.52 L629.78,675.46 L630.27,675.41 L630.77,675.35 L631.27,675.30 L631.77,675.25 L632.27,675.19 L632.77,675.14 L633.27,675.09 L633.77,675.04 L634.27,675.00 L634.77,674.95 L635.26,674.90 L635.76,674.86 L636.26,674.81 L636.76,674.77 L637.26,674.72 L637.76,674.68 L638.26,674.64 L638.76,674.60 L639.26,674.56 L639.76,674.52 L640.26,674.48 L640.75,674.44 L641.25,674.40 L641.75,674.36 L642.25,674.32 L642.75,674.29 L643.25,674.25 L643.75,674.22 L644.25,674.18 L644.75,674.15 L645.25,674.12 L645.75,674.08 L646.24,674.05 L646.74,674.02 L647.24,673.99 L647.74,673.96 L648.24,673.92 L648.74,673.89 L649.24,673.86 L649.74,673.84 L650.24,673.81 L650.74,673.78 L651.24,673.75 L651.73,673.72 L652.23,673.70 L652.73,673.67 L653.23,673.64 L653.73,673.61 L654.23,673.59 L654.73,673.56 L655.23,673.54 L655.73,673.51 L656.23,673.49 L656.73,673.46 L657.22,673.44 L657.72,673.41 L658.22,673.39 L658.72,673.37 L659.22,673.34 L659.72,673.32 L660.22,673.29 L660.72,673.27 L661.22,673.25 L661.72,673.22 L662.22,673.20 L662.71,673.18 L663.21,673.15 L663.71,673.13 L664.21,673.11 L664.71,673.09 L665.21,673.06 L665.71,673.04 L666.21,673.02 L666.71,672.99 L667.21,672.97 L667.71,672.95 L668.20,672.92 L668.70,672.90 L669.20,672.88 L669.70,672.85 L670.20,672.83 L670.70,672.81 L670.70,692.20 Z" fill="#3a94dd"/>
<line x1="580.66" y1="436.80" x2="580.66" y2="692.20" stroke="#4d4d4d" stroke-width="1.1" stroke-dasharray="5.46 1.56 2.34 1.56" stroke-dashoffset="3.83"/>
<line x1="654.33" y1="436.80" x2="654.33" y2="692.20" stroke="#4d4d4d" stroke-width="1.1" stroke-dasharray="5.46 1.56 2.34 1.56" stroke-dashoffset="3.83"/>
<rect x="507.00" y="436.80" width="163.70" height="255.40" fill="none" stroke="#959595" stroke-width="1"/>
<line x1="507.00" y1="692.20" x2="509.40" y2="692.20" stroke="#959595" stroke-width="1"/>
<line x1="670.70" y1="692.20" x2="668.30" y2="692.20" stroke="#959595" stroke-width="1"/>
<line x1="507.00" y1="628.35" x2="509.40" y2="628.35" stroke="#959595" stroke-width="1"/>
<line x1="670.70" y1="628.35" x2="668.30" y2="628.35" stroke="#959595" stroke-width="1"/>
<line x1="507.00" y1="564.50" x2="509.40" y2="564.50" stroke="#959595" stroke-width="1"/>
<line x1="670.70" y1="564.50" x2="668.30" y2="564.50" stroke="#959595" stroke-width="1"/>
<line x1="507.00" y1="500.65" x2="509.40" y2="500.65" stroke="#959595" stroke-width="1"/>
<line x1="670.70" y1="500.65" x2="668.30" y2="500.65" stroke="#959595" stroke-width="1"/>
<line x1="507.00" y1="436.80" x2="509.40" y2="436.80" stroke="#959595" stroke-width="1"/>
<line x1="670.70" y1="436.80" x2="668.30" y2="436.80" stroke="#959595" stroke-width="1"/>
<line x1="507.00" y1="692.20" x2="507.00" y2="689.80" stroke="#959595" stroke-width="1"/>
<line x1="507.00" y1="436.80" x2="507.00" y2="439.20" stroke="#959595" stroke-width="1"/>
<line x1="588.85" y1="692.20" x2="588.85" y2="689.80" stroke="#959595" stroke-width="1"/>
<line x1="588.85" y1="436.80" x2="588.85" y2="439.20" stroke="#959595" stroke-width="1"/>
<line x1="670.70" y1="692.20" x2="670.70" y2="689.80" stroke="#959595" stroke-width="1"/>
<line x1="670.70" y1="436.80" x2="670.70" y2="439.20" stroke="#959595" stroke-width="1"/>
<text x="501.70" y="699.40" font-size="17.6" text-anchor="end" fill="#262626">0</text>
<text x="501.70" y="635.55" font-size="17.6" text-anchor="end" fill="#262626">0.5</text>
<text x="501.70" y="571.70" font-size="17.6" text-anchor="end" fill="#262626">1</text>
<text x="501.70" y="507.85" font-size="17.6" text-anchor="end" fill="#262626">1.5</text>
<text x="501.70" y="444.00" font-size="17.6" text-anchor="end" fill="#262626">2</text>
<text x="507.00" y="714.60" font-size="17.6" text-anchor="middle" fill="#262626">0</text>
<text x="588.85" y="714.60" font-size="17.6" text-anchor="middle" fill="#262626">100</text>
<text x="670.70" y="714.60" font-size="17.6" text-anchor="middle" fill="#262626">200</text>
<text x="155.5" y="52.4" font-size="19.1" text-anchor="middle" fill="#000">Original variant</text>
<text x="373.2" y="55.0" font-size="19.25" text-anchor="middle" fill="#000">Alpha-like variant</text>
<text x="588.3" y="58.0" font-size="19.3" text-anchor="middle" fill="#000">Delta-like variant</text>
<text x="365.3" y="18.2" font-size="25.7" text-anchor="middle" fill="#000">Slow vaccination</text>
<text x="377.0" y="388.9" font-size="25.35" text-anchor="middle" fill="#000">Fast vaccination</text>
<text x="28.3" y="44.6" font-size="21.5" font-weight="bold" fill="#000">a</text>
<text x="266.3" y="44.5" font-size="21.0" font-weight="bold" fill="#000">b</text>
<text x="481.2" y="45.9" font-size="21.0" font-weight="bold" fill="#000">c</text>
<text x="53.2" y="426.3" font-size="21.0" font-weight="bold" fill="#000">d</text>
<text x="271.4" y="425.1" font-size="21.0" font-weight="bold" fill="#000">e</text>
<text x="492.0" y="426.6" font-size="21.0" font-weight="bold" fill="#000">f</text>
<text x="154.85" y="732.70" font-size="18.95" text-anchor="middle" fill="#262626">Time (days)</text>
<text x="373.60" y="735.00" font-size="18.60" text-anchor="middle" fill="#262626">Time (days)</text>
<text x="588.90" y="736.90" font-size="18.65" text-anchor="middle" fill="#262626">Time (days)</text>
<text transform="translate(15.40,174.30) rotate(-90)" x="0" y="0" font-size="19.30" text-anchor="middle" fill="#262626">Cumulative</text>
<text transform="translate(38.50,183.20) rotate(-90)" x="0" y="0" font-size="19.30" text-anchor="middle" fill="#262626">percentage hospitalised (%)</text>
<text transform="translate(15.40,571.50) rotate(-90)" x="0" y="0" font-size="19.30" text-anchor="middle" fill="#262626">Cumulative</text>
<text transform="translate(38.50,563.70) rotate(-90)" x="0" y="0" font-size="19.30" text-anchor="middle" fill="#262626">percentage hospitalised (%)</text>
<rect x="260" y="765.2" width="21" height="12.2" fill="#e42125"/>
<rect x="394.2" y="765.2" width="21" height="12.2" fill="#3a94dd"/>
<text x="283.75" y="774.5" font-family="Liberation Serif" font-size="15" textLength="104" lengthAdjust="spacingAndGlyphs" fill="#1a1a1a">Non-vaccinated</text>
<text x="418.05" y="774.8" font-family="Liberation Serif" font-size="15" textLength="74.2" lengthAdjust="spacingAndGlyphs" fill="#1a1a1a">Vaccinated</text>
</svg>
</body></html>
